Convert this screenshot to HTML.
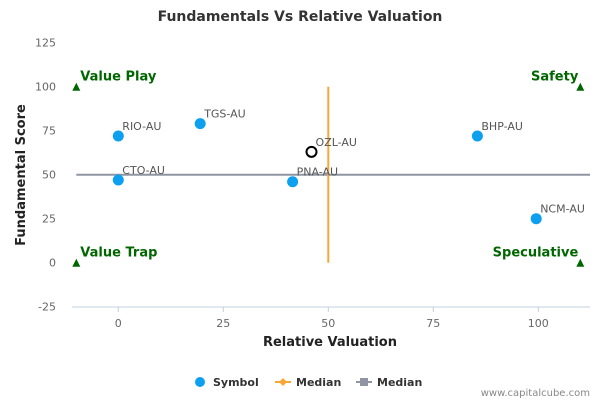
<!DOCTYPE html>
<html><head><meta charset="utf-8"><style>
body{margin:0;background:#fff;font-family:"DejaVu Sans","Liberation Sans",sans-serif}
svg text{font-family:"DejaVu Sans","Liberation Sans",sans-serif}
</style></head><body>
<svg id="c" width="600" height="400" xmlns="http://www.w3.org/2000/svg"></svg>
<script>
const names=["RIO-AU","TGS-AU","CTO-AU","PNA-AU","OZL-AU","BHP-AU","NCM-AU"];
const xs=[0,19.5,0,41.5,46,85.5,99.5];
const ys=[72,79,47,46,63,72,25];
const xTicks=[0,25,50,75,100];
const yTicks=[-25,0,25,50,75,100,125];
const quadNames=["Value Play","Safety","Value Trap","Speculative"];
const quadX=[-10,110,-10,110];
const quadY=[100,100,0,0];
const medX=50, medY=50;
const NS="http://www.w3.org/2000/svg";
const svg=document.getElementById('c');
const X=v=>118.3+v*4.2, Y=v=>262.7-v*1.76;
function el(t,a,txt){const e=document.createElementNS(NS,t);for(const k in a)e.setAttribute(k,a[k]);if(txt!=null)e.textContent=txt;svg.appendChild(e);return e;}
let e;
e=el('text',{x:300,y:21,'text-anchor':'middle','font-size':14,'font-weight':'bold',fill:'#333'},'Fundamentals Vs Relative Valuation');

e=el('line',{x1:72,x2:590,y1:307,y2:307,stroke:'#c0d0e0','stroke-width':1});

xTicks.forEach(t=>{e=el('line',{x1:X(t),x2:X(t),y1:307,y2:312,stroke:'#c0d0e0'});

e=el('text',{x:X(t),y:327,'text-anchor':'middle','font-size':11,fill:'#666'},t);
});
yTicks.forEach(t=>{e=el('text',{x:56,y:Y(t)+4,'text-anchor':'end','font-size':11,fill:'#666'},t);
});
e=el('text',{x:330,y:346,'text-anchor':'middle','font-size':13,'font-weight':'bold',fill:'#222'},'Relative Valuation');

e=el('text',{x:0,y:0,transform:'translate(25,175) rotate(-90)','text-anchor':'middle','font-size':13,'font-weight':'bold',fill:'#222'},'Fundamental Score');

e=el('line',{x1:X(-10),x2:590,y1:Y(medY),y2:Y(medY),stroke:'#8f95a3','stroke-width':2});

e=el('line',{x1:X(medX),x2:X(medX),y1:Y(0),y2:Y(100),stroke:'#f7a738','stroke-width':2});

quadNames.forEach((n,i)=>{const px=X(quadX[i]),py=Y(quadY[i]);
e=el('polygon',{points:`${px},${py-4} ${px-4},${py+4} ${px+4},${py+4}`,fill:'#006600'});

const right=quadX[i]>50;
e=el('text',{x:right?px-2:px+4,y:py-6,'text-anchor':right?'end':'start','font-size':13,'font-weight':'bold',fill:'#006600'},n);
});
names.forEach((n,i)=>{const px=X(xs[i]),py=Y(ys[i]);
if(n==="OZL-AU"){e=el('circle',{cx:px,cy:py,r:5,fill:'#fff',stroke:'#000','stroke-width':2});}
else e=el('circle',{cx:px,cy:py,r:5.5,fill:'#0d9ff0'});

e=el('text',{x:px+4,y:py-6,'font-size':11,fill:'#555'},n);
});
e=el('circle',{cx:200,cy:382,r:5,fill:'#0d9ff0'});

e=el('text',{x:213,y:386,'font-size':11,'font-weight':'bold',fill:'#333'},'Symbol');

e=el('line',{x1:275,x2:291,y1:382,y2:382,stroke:'#f7a738','stroke-width':2});

e=el('polygon',{points:'283,378 287,382 283,386 279,382',fill:'#f7a738'});

e=el('text',{x:296,y:386,'font-size':11,'font-weight':'bold',fill:'#333'},'Median');

e=el('line',{x1:356,x2:372,y1:382,y2:382,stroke:'#8f95a3','stroke-width':2});

e=el('rect',{x:360,y:378,width:8,height:8,fill:'#8f95a3'});

e=el('text',{x:377,y:386,'font-size':11,'font-weight':'bold',fill:'#333'},'Median');

e=el('text',{x:590,y:396,'text-anchor':'end','font-size':10,fill:'#888'},'www.capitalcube.com');

</script>
</body></html>
